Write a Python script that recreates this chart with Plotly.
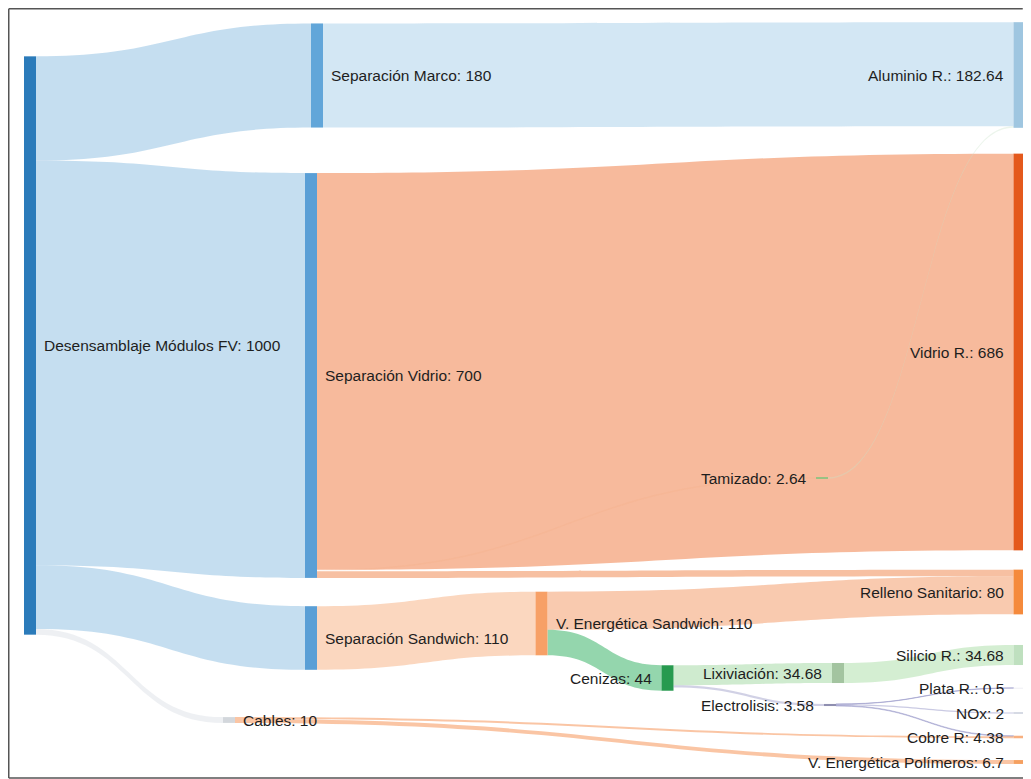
import plotly.graph_objects as go

# ---------------- data ----------------
node_labels = [
    "Desensamblaje Módulos FV: 1000",
    "Separación Marco: 180",
    "Separación Vidrio: 700",
    "Separación Sandwich: 110",
    "Cables: 10",
    "Aluminio R.: 182.64",
    "Vidrio R.: 686",
    "Tamizado: 2.64",
    "V. Energética Sandwich: 110",
    "Relleno Sanitario: 80",
    "Cenizas: 44",
    "Lixiviación: 34.68",
    "Electrolisis: 3.58",
    "Silicio R.: 34.68",
    "Plata R.: 0.5",
    "NOx: 2",
    "Cobre R: 4.38",
    "V. Energética Polímeros: 6.7",
]

link_source = [0, 0, 0, 0, 1, 2, 2, 2, 3, 8, 8, 7, 10, 10, 11, 12, 12, 12, 4, 4]
link_target = [1, 2, 3, 4, 5, 6, 7, 9, 8, 9, 10, 5, 11, 12, 13, 14, 15, 16, 16, 17]
link_value = [180, 700, 110, 10, 180, 686, 2.64, 11.36, 110, 66, 44, 2.64, 34.68, 3.58,
              34.68, 0.5, 2, 1.08, 3.3, 6.7]

# ---------------- styling / layout ----------------
PAGE_OFF = 8            # browser body margin
W, H = 1031 - PAGE_OFF, 779 - PAGE_OFF

node_colors = [
    "#2b7bba", "#62a6d9", "#5a9fd6", "#5a9fd6", "#d3d7dc",
    "#9fc6e0", "#e4591c", "#7cc47c", "#f7a066", "#f58a3c",
    "#279a4f", "#a3c4a0", "#8f8fb0", "#bfe0bf", "#dcdce8",
    "#b8bfd0", "#f8b080", "#f5a060",
]

link_colors = [
    "rgba(150,195,228,0.55)", "rgba(150,195,228,0.55)", "rgba(150,195,228,0.55)",
    "rgba(200,205,215,0.3)",
    "rgba(175,212,235,0.55)",
    "rgba(240,130,75,0.55)", "rgba(240,130,75,0.06)", "rgba(240,140,85,0.55)",
    "rgba(248,175,128,0.5)",
    "rgba(244,150,95,0.5)", "rgba(60,180,105,0.55)",
    "rgba(200,225,200,0.35)",
    "rgba(160,215,160,0.5)", "rgba(140,140,190,0.4)",
    "rgba(170,222,165,0.5)",
    "rgba(150,150,200,0.5)", "rgba(150,150,200,0.5)", "rgba(150,150,200,0.5)",
    "rgba(246,150,90,0.55)", "rgba(246,150,90,0.55)",
]

# node centres in page pixels (measured from reference)
node_cx = [30, 317, 311, 311, 229, 1019.5, 1019.5, 822, 541.5, 1019.5,
           667.5, 838, 830, 1019.5, 1019.5, 1019.5, 1019.5, 1019.5]
node_cy = [345.5, 75.5, 375.5, 638, 720, 75, 352, 478, 623.5, 592,
           678, 673, 705, 655, 688, 713, 737, 762]
label_right = [True, True, True, True, True, False, False, False, True, False,
               False, False, False, False, False, False, False, False]
THICK = 12
GAP_R, GAP_L = 7, 9

fx = [(cx - PAGE_OFF) for cx in node_cx]
fy = [(cy - PAGE_OFF) for cy in node_cy]
node_x = [v / W for v in fx]
node_y = [v / H for v in fy]

fig = go.Figure(go.Sankey(
    arrangement="freeform",
    domain=dict(x=[0, 1], y=[0, 1]),
    node=dict(
        label=[""] * len(node_labels),
        customdata=node_labels,
        hovertemplate="%{customdata}<extra></extra>",
        color=node_colors,
        x=node_x,
        y=node_y,
        pad=28,
        thickness=THICK,
        line=dict(width=0),
    ),
    link=dict(
        source=link_source,
        target=link_target,
        value=link_value,
        color=link_colors,
    ),
))

# node labels
for lab, x, y, right in zip(node_labels, fx, fy, label_right):
    if right:
        ax, anchor = x + THICK / 2 + GAP_R, "left"
    else:
        ax, anchor = x - THICK / 2 - GAP_L, "right"
    fig.add_annotation(
        text=lab, xref="paper", yref="paper",
        x=ax / W, y=1 - y / H, xanchor=anchor, yanchor="middle",
        showarrow=False, borderpad=0,
        font=dict(family="Arial", size=15.5, color="#1e1e1e"),
    )

# frame around chart (page coords)
fx0, fx1, fy0, fy1 = 7, 1022, 6, 778
def px(x):
    return max(x - PAGE_OFF + 0.75, 0.75) / W
def py(y):
    return 1 - max(y - PAGE_OFF + 0.75, 0.75) / H
frame = dict(color="#555555", width=1.5)
fig.add_shape(type="line", xref="paper", yref="paper",
              x0=px(fx0), x1=px(fx1), y0=py(fy0), y1=py(fy0), line=frame)
fig.add_shape(type="line", xref="paper", yref="paper",
              x0=px(fx0), x1=px(fx0), y0=py(fy0), y1=1 - (fy1 - PAGE_OFF) / H, line=frame)
fig.add_shape(type="line", xref="paper", yref="paper",
              x0=px(fx0), x1=1, y0=1 - (fy1 - PAGE_OFF) / H, y1=1 - (fy1 - PAGE_OFF) / H,
              line=frame)

fig.update_layout(
    width=W, height=H,
    margin=dict(l=0, r=0, t=0, b=0),
    paper_bgcolor="white",
    plot_bgcolor="white",
    showlegend=False,
)

fig.write_html("out.html")
